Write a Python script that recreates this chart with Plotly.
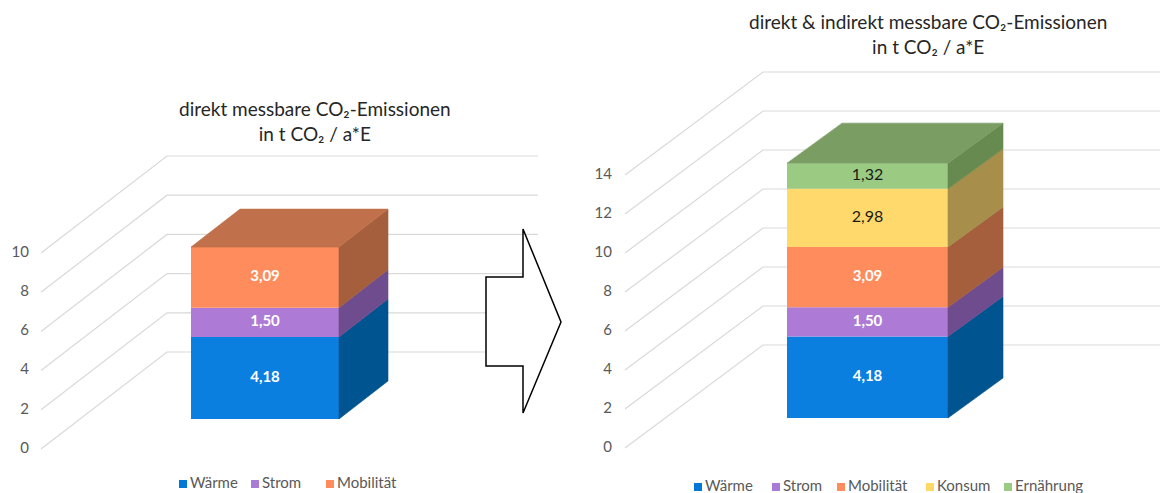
import plotly.graph_objects as go

# ---------------- data ----------------
categories_left = ["Wärme", "Strom", "Mobilität"]
values_left = [4.18, 1.50, 3.09]
categories_right = ["Wärme", "Strom", "Mobilität", "Konsum", "Ernährung"]
values_right = [4.18, 1.50, 3.09, 2.98, 1.32]
ticks_left = [0, 2, 4, 6, 8, 10]
ticks_right = [0, 2, 4, 6, 8, 10, 12, 14]
title_left = "direkt messbare CO₂-Emissionen<br>in t CO₂ / a*E"
title_right = "direkt & indirekt messbare CO₂-Emissionen<br>in t CO₂ / a*E"

# ---------------- styles ----------------
FONT = "Lato, 'Open Sans', 'DejaVu Sans', sans-serif"
GREY = "#595959"
GRID = "#D9D9D9"
FRONT = {"Wärme": "#0A7FE0", "Strom": "#AD7BD6", "Mobilität": "#FF8C5C",
         "Konsum": "#FFD96B", "Ernährung": "#9BCB82"}
SIDE = {"Wärme": "#00548F", "Strom": "#6E4C8D", "Mobilität": "#A55F3D",
        "Konsum": "#A78F4B", "Ernährung": "#668A4F"}
TOP = {"Mobilität": "#C0704A", "Ernährung": "#7A9D63"}
LEGEND_COL = {"Wärme": "#0078D7", "Strom": "#A87BD6", "Mobilität": "#FF8C5C",
              "Konsum": "#FFD966", "Ernährung": "#9BCB82"}
LABEL = {"Wärme": ("white", True), "Strom": ("white", True), "Mobilität": ("white", True),
         "Konsum": ("#1a1a1a", False), "Ernährung": ("#1a1a1a", False)}

W, H = 1160, 493

charts = [
    dict(cats=categories_left, vals=values_left, ticks=ticks_left, title=title_left,
         gax="y", bax="y2", s=19.6, bottom=419, left=191, width=148, ddx=49, ddy=38,
         gfx=41, gfdy=30, gwx=167, gwdy=67, grx=538, tlx=29,
         tx=315, ty=121, lx=[183, 255, 330], ly=484),
    dict(cats=categories_right, vals=values_right, ticks=ticks_right, title=title_right,
         gax="y3", bax="y4", s=19.5, bottom=418, left=787, width=161, ddx=55, ddy=40,
         gfx=625, gfdy=30, gwx=763, gwdy=73, grx=1175, tlx=612,
         tx=928, ty=34, lx=[698, 776, 841, 930, 1008], ly=487),
]

fig = go.Figure()
layout_axes = {}

for c in charts:
    s = c["s"]
    yr = [-(H - c["bottom"]) / s, c["bottom"] / s]
    # gridlines (oblique floor part + back wall)
    gx, gy = [], []
    for v in c["ticks"]:
        gx += [c["gfx"], c["gwx"], c["grx"], None]
        gy += [v - c["gfdy"] / s, v + c["gwdy"] / s, v + c["gwdy"] / s, None]
    fig.add_trace(go.Scatter(x=gx, y=gy, mode="lines", line=dict(color=GRID, width=1.2),
                             yaxis=c["gax"], hoverinfo="skip", showlegend=False))
    # tick labels
    fig.add_trace(go.Scatter(x=[c["tlx"]] * len(c["ticks"]),
                             y=[v - c["gfdy"] / s for v in c["ticks"]],
                             text=[str(v) for v in c["ticks"]], mode="text",
                             textposition="middle left",
                             textfont=dict(family=FONT, size=15, color=GREY),
                             yaxis=c["gax"], hoverinfo="skip", showlegend=False))
    # bars
    L = c["left"]
    R = L + c["width"]
    xc = L + c["width"] / 2
    dx = c["ddx"]
    dyv = c["ddy"] / s
    base = 0.0
    n = len(c["cats"])
    for i, (cat, val) in enumerate(zip(c["cats"], c["vals"])):
        col, bold = LABEL[cat]
        fig.add_trace(go.Bar(
            x=[xc], y=[val], base=[base], width=[c["width"]],
            marker=dict(color=FRONT[cat], line=dict(width=0)),
            yaxis=c["bax"], name=cat, showlegend=False, hoverinfo="skip"))
        top = base + val
        fig.add_trace(go.Scatter(
            x=[R, R + dx, R + dx, R, R], y=[base, base + dyv, top + dyv, top, base],
            fill="toself", fillcolor=SIDE[cat], mode="lines",
            line=dict(color=SIDE[cat], width=0.6),
            yaxis=c["bax"], hoverinfo="skip", showlegend=False))
        if i == n - 1:
            fig.add_trace(go.Scatter(
                x=[L, R, R + dx, L + dx, L], y=[top, top, top + dyv, top + dyv, top],
                fill="toself", fillcolor=TOP[cat], mode="lines",
                line=dict(color=TOP[cat], width=0.6),
                yaxis=c["bax"], hoverinfo="skip", showlegend=False))
        # data label at the middle of the front face
        fig.add_trace(go.Scatter(
            x=[xc], y=[base + val / 2], customdata=[val], mode="text",
            texttemplate="<b>%{customdata:.2f}</b>" if bold else "%{customdata:.2f}",
            textposition="middle center",
            textfont=dict(family=FONT, size=15 if bold else 16, color=col),
            yaxis=c["bax"], hoverinfo="skip", showlegend=False))
        base = top
    # legend (custom)
    ly_val = (c["bottom"] - c["ly"]) / s
    for cat, lxp in zip(c["cats"], c["lx"]):
        fig.add_trace(go.Scatter(
            x=[lxp], y=[ly_val], mode="markers",
            marker=dict(symbol="square", size=8, color=LEGEND_COL[cat]),
            yaxis=c["gax"], hoverinfo="skip", showlegend=False))
        fig.add_trace(go.Scatter(
            x=[lxp + 7], y=[ly_val], mode="text", text=[cat],
            textposition="middle right",
            textfont=dict(family=FONT, size=15, color=GREY),
            yaxis=c["gax"], hoverinfo="skip", showlegend=False))
    # title
    fig.add_annotation(x=c["tx"], y=1 - c["ty"] / H, xref="x", yref="paper",
                       text=c["title"], showarrow=False, xanchor="center", yanchor="middle",
                       font=dict(family=FONT, size=19, color="#262626"))
    gname = "yaxis" if c["gax"] == "y" else "yaxis" + c["gax"][1:]
    bname = "yaxis" + c["bax"][1:]
    layout_axes[gname] = dict(range=yr, visible=False, fixedrange=True)
    layout_axes[bname] = dict(range=yr, visible=False, fixedrange=True, overlaying="y")

layout_axes["yaxis3"]["overlaying"] = "y"

# arrow between the charts (decoration, pixel positions)
arrow_px = [(486, 277), (523, 277), (523, 229), (561, 322), (523, 413), (523, 366), (486, 366)]
path = "M " + " L ".join(f"{x},{1 - y / H:.4f}" for x, y in arrow_px) + " Z"
fig.add_shape(type="path", path=path, xref="x", yref="paper",
              line=dict(color="black", width=1.5), fillcolor="white", layer="above")

fig.update_layout(
    width=W, height=H, margin=dict(l=0, r=0, t=0, b=0),
    paper_bgcolor="white", plot_bgcolor="white",
    barmode="overlay", separators=",.", showlegend=False,
    xaxis=dict(range=[0, W], visible=False, fixedrange=True),
    **layout_axes,
)

fig.write_html("out.html")
